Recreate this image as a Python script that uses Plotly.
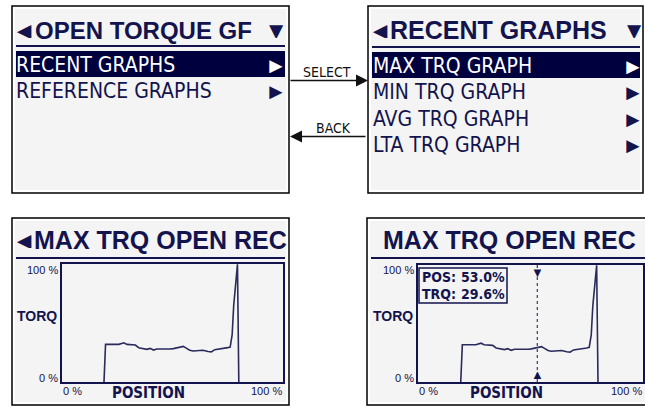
import plotly.graph_objects as go

W, H = 645, 407
NAVY = '#13134d'
HILITE = '#00003f'
SCREEN = '#f4f4f4'
WIDE = 'Liberation Sans, Arial, sans-serif'
NARROW = 'Liberation Sans Narrow, Arial Narrow, DejaVu Sans Condensed, sans-serif'

# menu screens
main_title = 'OPEN TORQUE GF'
main_items = ['RECENT GRAPHS', 'REFERENCE GRAPHS']
recent_title = 'RECENT GRAPHS'
recent_items = ['MAX TRQ GRAPH', 'MIN TRQ GRAPH', 'AVG TRQ GRAPH', 'LTA TRQ GRAPH']
nav_labels = ['SELECT', 'BACK']
graph_title = 'MAX TRQ OPEN REC'

# max torque curve: % of stroke vs % torque
position = [19.0, 19.7, 25.7, 27.2, 28.0, 29.4, 31.7, 33.2, 34.7, 36.9, 38.4, 39.9, 41.4,
            42.9, 45.1, 46.6, 48.9, 50.4, 51.9, 53.4, 54.9, 56.4, 57.8, 59.3, 61.6, 63.8,
            66.1, 67.6, 69.1, 70.6, 72.0, 73.5, 75.0, 76.1, 77.0, 77.7, 78.5, 79.1, 79.4, 80.0]
torque = [0, 31.9, 31.9, 32.4, 33.2, 31.9, 31.9, 31.3, 29.1, 28.3, 27.7, 28.5, 27.1,
          28.0, 28.0, 27.4, 28.0, 28.3, 28.8, 29.6, 30.2, 28.5, 26.9, 26.3, 26.3, 26.9,
          25.8, 25.5, 27.4, 27.7, 28.5, 28.8, 29.1, 29.6, 40.2, 65.1, 84.5, 98.3, 99.7, 0]
cursor_pos = 53.0
cursor_trq = 29.6
axis_ticks = ['0 %', '100 %']
y_label, x_label = 'TORQ', 'POSITION'

fig = go.Figure()


def box(x0, y0, x1, y1, fill=None, line=None, lw=1.5, layer='below'):
    fig.add_shape(type='rect', xref='x', yref='y', x0=x0, y0=y0, x1=x1, y1=y1, layer=layer,
                  fillcolor=fill or 'rgba(0,0,0,0)',
                  line=dict(color=line or 'rgba(0,0,0,0)', width=lw if line else 0))


def hline(x0, x1, y, color=NAVY, lw=2):
    fig.add_shape(type='line', xref='x', yref='y', x0=x0, x1=x1, y0=y, y1=y, layer='below',
                  line=dict(color=color, width=lw))


def label(x, y, text, size, family=NARROW, weight='normal', color=NAVY, xanchor='left'):
    fig.add_annotation(x=x, y=y, xref='x', yref='y', text=text, showarrow=False,
                       xanchor=xanchor, yanchor='middle', borderpad=0,
                       font=dict(family=family, size=size, color=color, weight=weight))


def glyph(x, y, ch, size, color=NAVY, w=16, h=16):
    # keypad arrow glyphs, boxed tight so they sit next to the text like on the LCD
    fig.add_annotation(x=x, y=y, xref='x', yref='y', text=ch, showarrow=False,
                       xanchor='center', yanchor='middle', borderpad=0, width=w, height=h,
                       align='center', valign='middle',
                       font=dict(family=WIDE, size=size, color=color))


# screen frames
frames = [(12, 6, 289, 193), (368, 6, 643, 193), (12, 218, 289, 405), (367, 218, 648, 405)]
for x0, y0, x1, y1 in frames:
    box(x0, y0, x1, y1, fill='white', line='black', lw=1.5)
    box(x0 + 3, y0 + 3, x1 - 3, y1 - 3, fill=SCREEN)

# top-left menu
glyph(24, 30, '◄', 24)
label(34, 30, main_title, 24, family=WIDE, weight='bold')
glyph(276, 30, '▼', 24)
hline(16, 285, 46)
box(16, 51, 285, 77, fill=HILITE)
for i, item in enumerate(main_items):
    c = 'white' if i == 0 else NAVY
    label(15, 64.5 + 26 * i, item, 21, color=c)
    glyph(276, 64.5 + 26 * i, '►', 22, color=c)

# top-right menu
glyph(380, 30, '◄', 24)
label(389, 30, recent_title, 25, family=WIDE, weight='bold')
glyph(634, 30, '▼', 24)
hline(372, 640, 47)
box(372, 52, 640, 78, fill=HILITE)
for i, item in enumerate(recent_items):
    c = 'white' if i == 0 else NAVY
    label(372, 66 + 26.3 * i, item, 21, color=c)
    glyph(633, 66 + 26.3 * i, '►', 22, color=c)

# navigation arrows
for (hx, tx, y), txt, tx_c in [((368, 289, 80.5), nav_labels[0], 327), ((290, 367, 136.5), nav_labels[1], 333)]:
    fig.add_annotation(x=hx, y=y, ax=tx, ay=y, xref='x', yref='y', axref='x', ayref='y',
                       text='', showarrow=True, arrowhead=2, arrowsize=1.6, arrowwidth=1.5,
                       arrowcolor='#111111', standoff=0, startstandoff=0)
    label(tx_c, y - 9, txt, 14, color='#111111', xanchor='center')

# graph screens
for (x0, x1, title, with_back) in [(62, 283, graph_title, True), (418, 643, graph_title, False)]:
    if with_back:
        glyph(24, 240, '◄', 24)
        label(33, 240, title, 25, family=WIDE, weight='bold')
        hline(16, 285, 258)
    else:
        label(509, 240, title, 25, family=WIDE, weight='bold', xanchor='center')
        hline(371, 645, 258)
    label(x0 - 3, 270, axis_ticks[1], 11, family=WIDE, xanchor='right')
    label(x0 - 3, 378, axis_ticks[0], 11, family=WIDE, xanchor='right')
    label(x0 - 4, 316, y_label, 14, family=WIDE, weight='bold', xanchor='right')
    label(x0, 391, axis_ticks[0], 11, family=WIDE)
    label(x1, 391, axis_ticks[1], 11, family=WIDE, xanchor='right')
    label(x0 + 0.393 * (x1 - x0), 393, x_label, 15, family=NARROW, weight='bold', xanchor='center')

for xa, ya in [('x2', 'y2'), ('x3', 'y3')]:
    fig.add_trace(go.Scatter(x=position, y=torque, xaxis=xa, yaxis=ya, mode='lines',
                             line=dict(color='#2a2a5c', width=1.6), hoverinfo='skip',
                             cliponaxis=False))

# cursor on the right graph
fig.add_shape(type='line', xref='x3', yref='y3', x0=cursor_pos, x1=cursor_pos, y0=0, y1=100,
              line=dict(color=NAVY, width=1, dash='dot'))
fig.add_annotation(x=cursor_pos, y=100, xref='x3', yref='y3', text='▼', showarrow=False,
                   yanchor='top', yshift=2, font=dict(family=WIDE, size=13, color=NAVY))
fig.add_annotation(x=cursor_pos, y=0, xref='x3', yref='y3', text='▲', showarrow=False,
                   yanchor='bottom', yshift=-2, font=dict(family=WIDE, size=13, color=NAVY))
box(419, 268, 507, 303, fill=SCREEN, line=NAVY, lw=1.5, layer='above')
label(421, 277, 'POS:', 14, weight='bold')
label(506, 277, f'{cursor_pos:.1f}%', 14, weight='bold', xanchor='right')
label(421, 294, 'TRQ:', 14, weight='bold')
label(506, 294, f'{cursor_trq:.1f}%', 14, weight='bold', xanchor='right')

ax_style = dict(showline=True, mirror=True, linecolor=NAVY, linewidth=2, showgrid=False,
                zeroline=False, showticklabels=False, ticks='', range=[0, 100], fixedrange=True)
fig.update_layout(
    width=W, height=H, margin=dict(l=0, r=0, t=0, b=0),
    paper_bgcolor='white', plot_bgcolor='rgba(0,0,0,0)', showlegend=False,
    xaxis=dict(range=[0, W], domain=[0, 1], visible=False, fixedrange=True),
    yaxis=dict(range=[H, 0], domain=[0, 1], visible=False, fixedrange=True),
    xaxis2=dict(domain=[62 / W, 283 / W], anchor='y2', **ax_style),
    yaxis2=dict(domain=[1 - 382 / H, 1 - 264 / H], anchor='x2', **ax_style),
    xaxis3=dict(domain=[418 / W, 643 / W], anchor='y3', **ax_style),
    yaxis3=dict(domain=[1 - 382 / H, 1 - 265 / H], anchor='x3', **ax_style),
)

# page body has a default 8px margin; drop it so the figure fills the window
fig.write_html('out.html', config={'displayModeBar': False},
               post_script="document.body.style.margin='0';")
